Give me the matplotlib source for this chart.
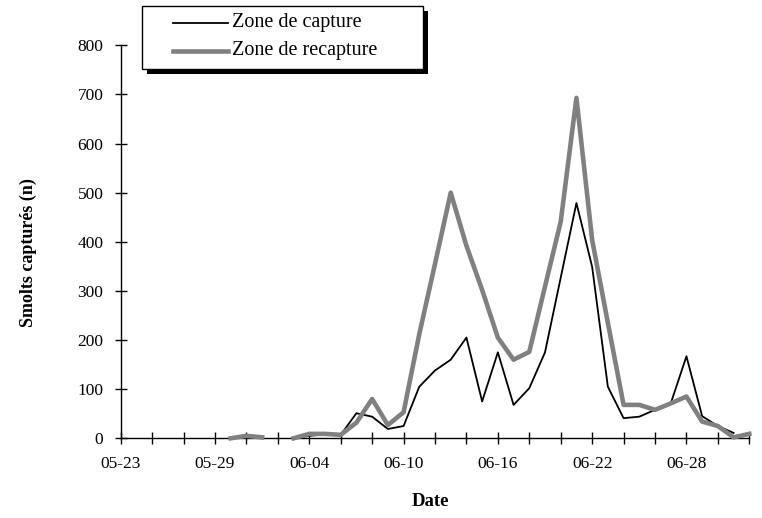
import numpy as np
import matplotlib
matplotlib.use("Agg")
import matplotlib.pyplot as plt
import matplotlib.dates as mdates
from matplotlib.patches import Rectangle
from matplotlib.lines import Line2D

plt.rcParams['font.family'] = ['Liberation Serif', 'DejaVu Serif']

# daily counts, 05-23 .. 07-02 (nan = no sampling)
dates = np.arange(np.datetime64('2000-05-23'), np.datetime64('2000-07-03'))
nan = np.nan
capture = [nan, nan, nan, nan, nan, nan, nan,
           0, 3, 0, nan, 0, 5, 8, 7, 51, 44, 19, 25,
           105, 138, 160, 205, 75, 175, 68, 102, 175, 327, 479, 349,
           105, 41, 44, 58, 71, 167, 45, 25, 11, nan]
recapture = [nan, nan, nan, nan, nan, nan, nan,
             0, 5, 2, nan, 0, 9, 9, 7, 32, 80, 27, 53,
             212, 355, 500, 392, 302, 205, 160, 176, 309, 441, 693, 404,
             235, 68, 68, 58, 71, 85, 34, 25, 2, 9]
series_names = ['Zone de capture', 'Zone de recapture']

W, H = 762, 518
fig = plt.figure(figsize=(W / 100, H / 100), dpi=100)
ax = fig.add_axes([120.7 / W, 1 - 438.3 / H, (749.3 - 120.7) / W, (438.3 - 45.3) / H])

x = mdates.date2num(dates.astype('datetime64[D]').astype(object))
ax.plot(x, capture, color='black', lw=1.3, zorder=3, clip_on=False)
ax.plot(x, recapture, color='#808080', lw=3.3, zorder=4, clip_on=False)

ax.set_xlim(x[0], x[-1])
ax.set_ylim(0, 800)
ax.set_yticks(np.arange(0, 801, 100))

ticks = x[::2]
labels = [mdates.num2date(t).strftime('%m-%d') if i % 3 == 0 else ''
          for i, t in enumerate(ticks)]
ax.set_xticks(ticks)
ax.set_xticklabels(labels)

for s in ['top', 'right']:
    ax.spines[s].set_visible(False)
for s in ['left', 'bottom']:
    ax.spines[s].set_linewidth(1.0)
ax.tick_params(axis='both', direction='inout', length=9, width=1.0,
               labelsize=12.5)
ax.tick_params(axis='y', pad=8)
ax.tick_params(axis='x', pad=8)

fig.text(28 / W, 1 - 253 / H, 'Smolts capturés (n)', rotation=90,
         ha='center', va='center', fontsize=13, fontweight='bold')
fig.text(430 / W, 1 - 501 / H, 'Date', ha='center', va='center',
         fontsize=13.5, fontweight='bold')

# legend box with a solid drop shadow
def fx(px):
    return px / W

def fy(py):
    return 1 - py / H

left, top, right, bottom = 141.7, 6, 423, 69
fig.patches.append(Rectangle((fx(left + 5), fy(bottom + 5)),
                             fx(right - left), (bottom - top) / H,
                             transform=fig.transFigure, facecolor='black',
                             edgecolor='none', zorder=5))
fig.patches.append(Rectangle((fx(left), fy(bottom)),
                             fx(right - left), (bottom - top) / H,
                             transform=fig.transFigure, facecolor='white',
                             edgecolor='black', lw=1.0, zorder=6))
styles = [dict(color='black', lw=1.3), dict(color='#808080', lw=3.3)]
for row, (name, st) in enumerate(zip(series_names, styles)):
    yy = fy(23 + row * 28)
    fig.lines.append(Line2D([fx(173), fx(228)], [yy, yy],
                            transform=fig.transFigure, zorder=7, **st))
    fig.text(fx(232), yy, name, ha='left', va='center', fontsize=14.5,
             zorder=7)

fig.savefig('out.png', dpi=100)
